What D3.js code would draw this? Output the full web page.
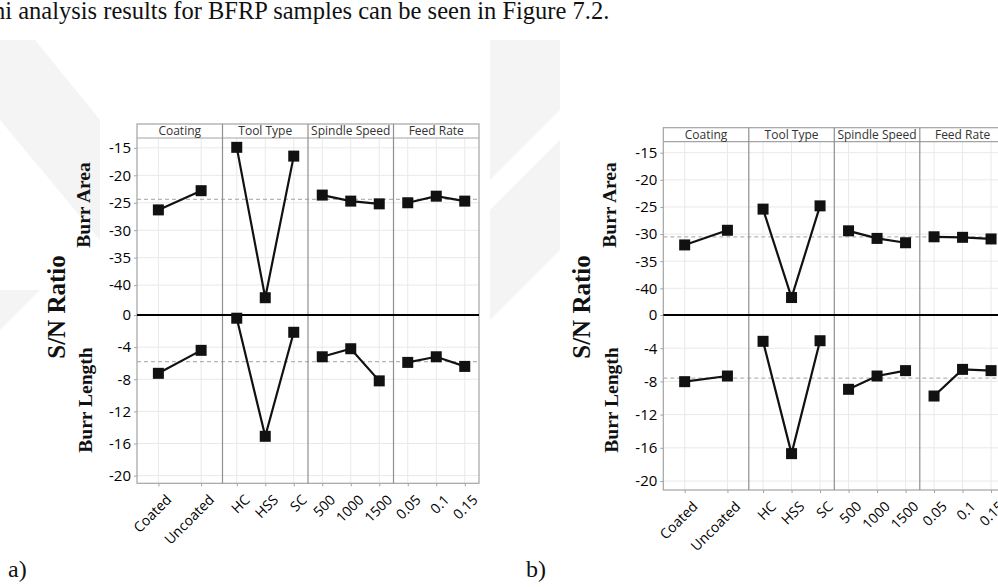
<!DOCTYPE html>
<html><head><meta charset="utf-8">
<script src="https://cdn.jsdelivr.net/npm/d3@7"></script>
<style>
html,body{margin:0;padding:0;background:#fff;overflow:hidden;}
svg{display:block;}
</style></head>
<body>
<svg id="c" width="998" height="587"></svg>
<script>
// ---------- data ----------
const factors = ["Coating", "Tool Type", "Spindle Speed", "Feed Rate"];
const levels = [["Coated", "Uncoated"], ["HC", "HSS", "SC"], ["500", "1000", "1500"], ["0.05", "0.1", "0.15"]];
const upperTicks = [-15, -20, -25, -30, -35, -40];
const lowerTicks = [0, -4, -8, -12, -16, -20];

// chart a)
const areaA   = [[-26.3, -22.8], [-14.9, -42.3, -16.5], [-23.6, -24.7, -25.2], [-25.0, -23.8, -24.7]];
const lengthA = [[-7.26, -4.4], [-0.4, -15.1, -2.15], [-5.2, -4.2, -8.2], [-5.9, -5.2, -6.4]];
const areaMeanA = -24.4, lengthMeanA = -5.8;

// chart b)
const areaB   = [[-32.0, -29.3], [-25.4, -41.7, -24.8], [-29.4, -30.8, -31.6], [-30.5, -30.6, -30.9]];
const lengthB = [[-8.03, -7.35], [-3.17, -16.7, -3.1], [-8.95, -7.35, -6.7], [-9.76, -6.55, -6.7]];
const areaMeanB = -30.5, lengthMeanB = -7.6;

const caption = "hi analysis results for BFRP samples can be seen in Figure 7.2.";

// ---------- drawing ----------
const svg = d3.select("#c");
const SANS = "'Open Sans','Noto Sans',sans-serif";
const SERIF = "'Liberation Serif','Times New Roman',serif";

// faint watermark
const wm = svg.append("g").attr("fill", "#f4f4f4");
[
  [[0,40],[35,40],[100,120],[100,240],[0,120]],
  [[490,40],[560,40],[560,110],[490,180]],
  [[490,210],[560,140],[560,250],[490,320]],
  [[0,290],[40,290],[0,330]]
].forEach(p => wm.append("polygon").attr("points", p.map(d => d.join(",")).join(" ")));

svg.append("text").attr("x", -7).attr("y", 19).attr("font-family", SERIF)
  .attr("font-size", 24.5).attr("fill", "#111").text(caption);

function drawChart(cfg, area, length, areaMean, lengthMean, tag) {
  const g = svg.append("g");
  const W = cfg.facetW;
  const right = cfg.left + W * factors.length;
  const yU = d3.scaleLinear().domain(cfg.upperDomain).range([cfg.zero, cfg.stripBottom]);
  const yL = d3.scaleLinear().domain(cfg.lowerDomain).range([cfg.bottom, cfg.zero]);
  const xs = levels.map((lv, i) => d3.scalePoint().domain(lv)
      .range([cfg.left + i * W, cfg.left + (i + 1) * W]).padding(0.5));

  g.append("rect").attr("x", cfg.left).attr("y", cfg.stripTop)
    .attr("width", right - cfg.left).attr("height", cfg.bottom - cfg.stripTop).attr("fill", "#fff");

  const grid = g.append("g").attr("stroke", "#e9e9e9").attr("stroke-width", 1);
  upperTicks.forEach(t => grid.append("line").attr("x1", cfg.left).attr("x2", right)
    .attr("y1", yU(t)).attr("y2", yU(t)));
  lowerTicks.forEach(t => grid.append("line").attr("x1", cfg.left).attr("x2", right)
    .attr("y1", yL(t)).attr("y2", yL(t)));
  levels.forEach((lv, i) => lv.forEach(l => grid.append("line")
    .attr("x1", xs[i](l)).attr("x2", xs[i](l)).attr("y1", cfg.stripBottom).attr("y2", cfg.bottom)));

  [yU(areaMean), yL(lengthMean)].forEach(y => g.append("line")
    .attr("x1", cfg.left).attr("x2", right).attr("y1", y).attr("y2", y)
    .attr("stroke", "#b5b5b5").attr("stroke-width", 1.2).attr("stroke-dasharray", "4,3"));

  const fr = g.append("g").attr("stroke", "#a3a3a3").attr("stroke-width", 1.2).attr("fill", "none");
  fr.append("rect").attr("x", cfg.left).attr("y", cfg.stripTop)
    .attr("width", right - cfg.left).attr("height", cfg.bottom - cfg.stripTop);
  fr.append("line").attr("x1", cfg.left).attr("x2", right).attr("y1", cfg.stripBottom).attr("y2", cfg.stripBottom);
  for (let i = 1; i < factors.length; i++) {
    fr.append("line").attr("x1", cfg.left + i * W).attr("x2", cfg.left + i * W)
      .attr("y1", cfg.stripTop).attr("y2", cfg.bottom).attr("stroke", "#8f8f8f");
  }
  factors.forEach((f, i) => g.append("text").attr("x", cfg.left + (i + 0.5) * W)
    .attr("y", cfg.stripBottom - 3).attr("text-anchor", "middle")
    .attr("font-family", SANS).attr("font-size", 12).attr("fill", "#333").text(f));

  g.append("line").attr("x1", cfg.left).attr("x2", right).attr("y1", cfg.zero).attr("y2", cfg.zero)
    .attr("stroke", "#000").attr("stroke-width", 2.2);

  const fmt = d => String(d);
  const axU = g.append("g").attr("transform", `translate(${cfg.left},0)`)
    .call(d3.axisLeft(yU).tickValues(upperTicks).tickFormat(fmt).tickSize(3).tickPadding(3));
  const axL = g.append("g").attr("transform", `translate(${cfg.left},0)`)
    .call(d3.axisLeft(yL).tickValues(lowerTicks).tickFormat(fmt).tickSize(3).tickPadding(3));
  [axU, axL].forEach(a => {
    a.select(".domain").remove();
    a.selectAll("line").attr("stroke", "#a3a3a3");
    a.selectAll("text").attr("font-family", SANS).attr("font-size", 15).attr("fill", "#000");
  });

  xs.forEach((x, i) => {
    const ax = g.append("g").attr("transform", `translate(0,${cfg.bottom})`)
      .call(d3.axisBottom(x).tickSize(3).tickPadding(4));
    ax.select(".domain").remove();
    ax.selectAll("line").attr("stroke", "#a3a3a3");
    ax.selectAll("text").attr("font-family", SANS).attr("font-size", 14).attr("fill", "#000")
      .attr("text-anchor", "end").attr("dy", "0.35em")
      .attr("transform", "translate(5,9) rotate(-45)");
  });

  const drawSeries = (vals, y) => {
    vals.forEach((v, i) => {
      const pts = levels[i].map((l, j) => [xs[i](l), y(v[j])]);
      g.append("path").attr("d", d3.line()(pts)).attr("fill", "none")
        .attr("stroke", "#111").attr("stroke-width", 2.2);
      pts.forEach(p => g.append("rect").attr("x", p[0] - 5.5).attr("y", p[1] - 5.5)
        .attr("width", 11).attr("height", 11).attr("fill", "#111"));
    });
  };
  drawSeries(area, yU);
  drawSeries(length, yL);

  const rot = (x, y, txt, size) => svg.append("text")
    .attr("transform", `translate(${x},${y}) rotate(-90)`).attr("text-anchor", "middle")
    .attr("font-family", SERIF).attr("font-weight", "bold").attr("font-size", size)
    .attr("fill", "#111").text(txt);
  rot(cfg.snX, 307, "S/N Ratio", 25);
  rot(cfg.subX, 205, "Burr Area", 19.5);
  rot(cfg.subX + 2, 400, "Burr Length", 19.5);

  svg.append("text").attr("x", cfg.tagX).attr("y", 577).attr("font-family", SERIF)
    .attr("font-size", 24).attr("fill", "#111").text(tag);
}

drawChart({left: 137, facetW: 85.5, stripTop: 124, stripBottom: 138, zero: 315, bottom: 483.3,
  upperDomain: [-45.45, -13.2], lowerDomain: [-20.95, 0], snX: 65, subX: 90, tagX: 8},
  areaA, lengthA, areaMeanA, lengthMeanA, "a)");
drawChart({left: 663.3, facetW: 85.5, stripTop: 127.7, stripBottom: 141.7, zero: 315, bottom: 490,
  upperDomain: [-44.92, -12.97], lowerDomain: [-21.08, 0], snX: 590, subX: 616, tagX: 526},
  areaB, lengthB, areaMeanB, lengthMeanB, "b)");
</script>
</body></html>
